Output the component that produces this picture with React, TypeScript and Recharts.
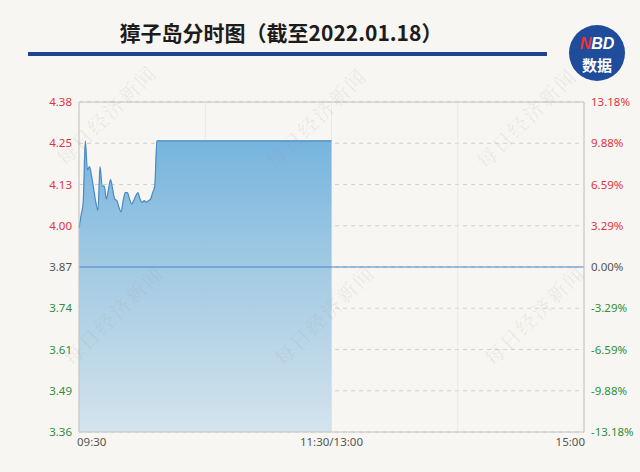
import React from 'react';
import {
  ComposedChart,
  Area,
  Line,
  XAxis,
  YAxis,
  CartesianGrid,
  ReferenceLine,
} from 'recharts';

// minutes after 09:30 (trading minutes, 0..240)
const minutes = [
  0, 1, 2, 3, 4, 5, 6, 7, 8, 9, 10, 11, 12, 13, 14, 15, 16, 17, 18, 19, 20,
  21, 22, 23, 24, 25, 26, 27, 28, 29, 30, 31, 32, 33, 34, 35, 36, 37, 120,
];
const prices = [
  3.99, 4.03, 4.07, 4.26, 4.17, 4.18, 4.15, 4.11, 4.07, 4.045, 4.18, 4.12,
  4.12, 4.08, 4.11, 4.14, 4.11, 4.08, 4.075, 4.055, 4.04, 4.075, 4.1, 4.1,
  4.08, 4.065, 4.075, 4.09, 4.1, 4.08, 4.07, 4.075, 4.07, 4.075, 4.08, 4.1,
  4.12, 4.26, 4.26,
];

const prevClose = 3.87;
const priceLabels = ['3.36', '3.49', '3.61', '3.74', '3.87', '4.00', '4.13', '4.25', '4.38'];
const pctLabels = [-13.18, -9.88, -6.59, -3.29, 0, 3.29, 6.59, 9.88, 13.18];
const timeTicks = [0, 60, 120, 180, 240];
const timeLabels: Record<number, string> = { 0: '09:30', 120: '11:30/13:00', 240: '15:00' };

const yMin = 3.36;
const yMax = 4.38;
const yStep = (yMax - yMin) / (priceLabels.length - 1);
const priceTicks = priceLabels.map((_, i) => yMin + i * yStep);

const RED = '#e2323c';
const GREEN = '#2f8f3a';
const GRAY = '#555';
const tickFont = { fontFamily: '"Noto Sans", sans-serif', fontSize: 11.5 };

const chartData = minutes.map((t, i) => ({
  t,
  price: prices[i],
  pct: (prices[i] / prevClose - 1) * 100,
}));

const LeftTick = (props: any) => {
  const { x, y, payload } = props;
  const i = Math.round((payload.value - yMin) / yStep);
  const fill = i > 4 ? RED : i === 4 ? GRAY : GREEN;
  return (
    <text x={x + 1} y={y} dy={4} textAnchor="end" fill={fill} {...tickFont}>
      {priceLabels[i]}
    </text>
  );
};

const RightTick = (props: any) => {
  const { x, y, payload } = props;
  const v = payload.value as number;
  const fill = v > 0 ? RED : v === 0 ? GRAY : GREEN;
  return (
    <text x={x - 1} y={y} dy={4} textAnchor="start" fill={fill} {...tickFont}>
      {v.toFixed(2) + '%'}
    </text>
  );
};

const TimeTick = (props: any) => {
  const { x, y, payload } = props;
  const label = timeLabels[payload.value];
  if (!label) return null;
  const anchor = payload.value === 0 ? 'start' : payload.value === 240 ? 'end' : 'middle';
  const dx = payload.value === 0 ? -2 : payload.value === 240 ? 1 : 0;
  return (
    <text x={x + dx} y={y - 2} dy="0.71em" textAnchor={anchor} fill={GRAY} {...tickFont}>
      {label}
    </text>
  );
};

const watermarks = [
  [108, 117], [318, 120], [528, 120],
  [115, 317], [326, 317], [536, 317],
];

export default function App() {
  return (
    <div
      style={{
        position: 'absolute',
        left: 0,
        top: 0,
        width: 640,
        height: 472,
        background: '#f8f6f2',
        overflow: 'hidden',
      }}
    >
      <div
        style={{
          position: 'absolute',
          left: 0,
          width: 562,
          top: 19,
          textAlign: 'center',
          fontFamily: '"Noto Sans CJK SC", sans-serif',
          fontWeight: 700,
          fontSize: 21,
          color: '#1c1c1c',
          lineHeight: '26px',
        }}
      >
        獐子岛分时图（截至2022.01.18）
      </div>
      <div
        style={{
          position: 'absolute',
          left: 28,
          top: 52,
          width: 519,
          height: 4,
          background: '#1f4291',
        }}
      />
      <ComposedChart
        width={640}
        height={472}
        data={chartData}
        margin={{ top: 102, right: 0, left: 0, bottom: 0 }}
        style={{ position: 'absolute', left: 0, top: 0 }}
      >
        <defs>
          <linearGradient id="fillGrad" x1="0" y1="0" x2="0" y2="1">
            <stop offset="0%" stopColor="#6fb1dd" stopOpacity={0.95} />
            <stop offset="55%" stopColor="#a4cbe3" stopOpacity={0.9} />
            <stop offset="100%" stopColor="#d2e3ed" stopOpacity={0.95} />
          </linearGradient>
        </defs>
        <CartesianGrid
          yAxisId="left"
          vertical={false}
          stroke="#d2d0cc"
          strokeDasharray="4 4"
        />
        <CartesianGrid yAxisId="left" horizontal={false} stroke="#ebe7e1" />
        <XAxis
          dataKey="t"
          type="number"
          domain={[0, 240]}
          ticks={timeTicks}
          interval={0}
          height={40}
          tickLine={false}
          axisLine={{ stroke: '#c4c4c4' }}
          tick={<TimeTick />}
        />
        <YAxis
          yAxisId="left"
          type="number"
          domain={[yMin, yMax]}
          ticks={priceTicks}
          interval={0}
          width={79}
          tickLine={false}
          axisLine={{ stroke: '#c4c4c4' }}
          tick={<LeftTick />}
        />
        <YAxis
          yAxisId="right"
          orientation="right"
          type="number"
          domain={[pctLabels[0], pctLabels[pctLabels.length - 1]]}
          ticks={pctLabels}
          interval={0}
          width={56}
          tickLine={false}
          axisLine={{ stroke: '#c4c4c4' }}
          tick={<RightTick />}
        />
        <ReferenceLine yAxisId="left" y={yMax} stroke="#c4c4c4" />
        <Area
          yAxisId="left"
          type="monotone"
          dataKey="price"
          stroke="#4a88c0"
          strokeWidth={1.2}
          fill="url(#fillGrad)"
          fillOpacity={1}
          baseValue={yMin}
          dot={false}
          activeDot={false}
          isAnimationActive={false}
        />
        <Line
          yAxisId="right"
          dataKey="pct"
          stroke="none"
          dot={false}
          activeDot={false}
          legendType="none"
          isAnimationActive={false}
        />
        <ReferenceLine yAxisId="left" y={prevClose} stroke="#4d84c4" strokeWidth={1} />
      </ComposedChart>
      <svg
        width={640}
        height={472}
        style={{ position: 'absolute', left: 0, top: 0, pointerEvents: 'none' }}
      >
        {watermarks.map(([cx, cy], i) => (
          <text
            key={i}
            x={cx}
            y={cy}
            textAnchor="middle"
            dominantBaseline="middle"
            transform={`rotate(-45 ${cx} ${cy})`}
            fill="#9a9a9a"
            fillOpacity={0.16}
            fontFamily='"Noto Serif CJK SC", "Noto Sans CJK SC", serif'
            fontSize={20}
            letterSpacing={2}
          >
            每日经济新闻
          </text>
        ))}
        <circle cx={597} cy={53} r={28} fill="#1f4c9b" />
        <text
          x={597}
          y={49}
          textAnchor="middle"
          fontFamily='"Liberation Sans", Arial, sans-serif'
          fontWeight={700}
          fontStyle="italic"
          fontSize={16}
          fill="#fff"
        >
          <tspan fill="#e8333a">N</tspan>
          <tspan>BD</tspan>
        </text>
        <text
          x={597}
          y={71}
          textAnchor="middle"
          fontFamily='"Noto Sans CJK SC", sans-serif'
          fontWeight={700}
          fontSize={15}
          fill="#fff"
        >
          数据
        </text>
      </svg>
    </div>
  );
}
